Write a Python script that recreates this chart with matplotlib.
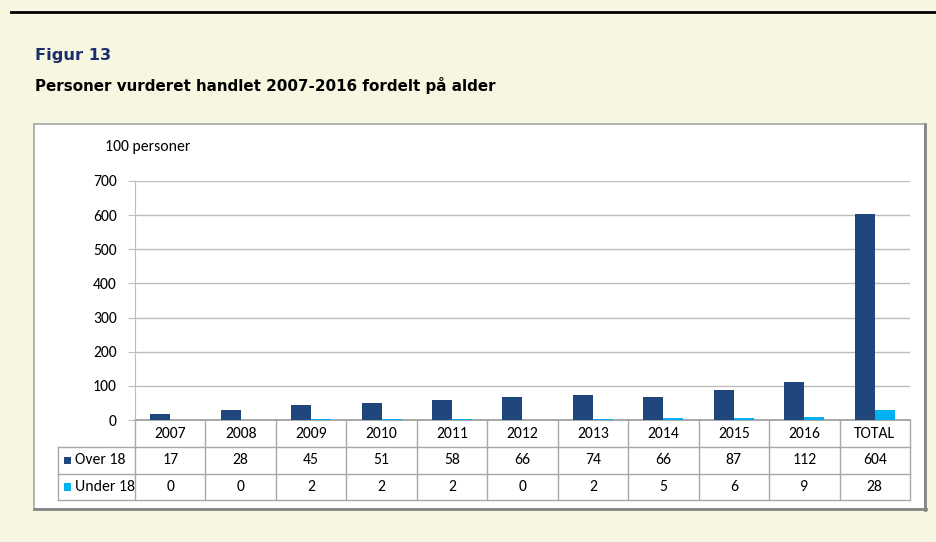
import matplotlib.pyplot as plt
import matplotlib.patches as mpatches
import matplotlib.transforms as mtransforms
from matplotlib import font_manager
import numpy as np

W, H = 936, 542

categories = ['2007', '2008', '2009', '2010', '2011', '2012', '2013', '2014', '2015', '2016', 'TOTAL']
over_18 = [17, 28, 45, 51, 58, 66, 74, 66, 87, 112, 604]
under_18 = [0, 0, 2, 2, 2, 0, 2, 5, 6, 9, 28]
series_names = ['Over 18', 'Under 18']
yticks = [0, 100, 200, 300, 400, 500, 600, 700]

c_over = '#1F477C'
c_under = '#00B0F0'
bg = '#F7F6E1'
grid_c = '#BDBDBD'

# Calibri-like font if one is around
installed = set(f.name for f in font_manager.fontManager.ttflist)
tfont = None
for cand in ['Carlito', 'Liberation Sans Narrow', 'Arial Narrow', 'Archivo Narrow', 'Liberation Sans']:
    if cand in installed:
        tfont = cand
        break
fs = {'Carlito': 11.3, 'Liberation Sans Narrow': 11.3, 'Arial Narrow': 11.3,
      'Archivo Narrow': 11.0}.get(tfont, 9.8)
tfont = [tfont, 'DejaVu Sans']


def fx(px):
    return px / W


def fy(py):
    return 1 - py / H


fig = plt.figure(figsize=(W / 100, H / 100), dpi=100, facecolor=bg)

# top rule
fig.add_artist(plt.Line2D([fx(11), 1], [fy(12), fy(12)], color='black', lw=2))

fig.text(fx(35), fy(60), 'Figur 13', fontsize=11.7, fontweight='bold',
         color='#1B2D6C', family='DejaVu Sans', va='baseline')
fig.text(fx(35), fy(90.7), 'Personer vurderet handlet 2007-2016 fordelt på alder',
         fontsize=10.9, fontweight='bold', color='black', family='DejaVu Sans', va='baseline')

# white panel with shadowed border
fig.add_artist(mpatches.Rectangle((fx(33.5), fy(508.5)), fx(891), fy(123.5) - fy(508.5),
                                  facecolor='white', edgecolor='#A5A5A5', lw=1.2, zorder=-2))
fig.add_artist(plt.Line2D([fx(924.5), fx(924.5)], [fy(124), fy(509.5)], color='#858585', lw=2, zorder=-1))
fig.add_artist(plt.Line2D([fx(34), fx(925.5)], [fy(509), fy(509)], color='#858585', lw=2, zorder=-1))

ax_top, ax_bot, ax_left, ax_right = 181, 420, 135, 910
ax = fig.add_axes([fx(ax_left), fy(ax_bot), fx(ax_right - ax_left), fy(ax_top) - fy(ax_bot)])
ax.set_facecolor('none')
ax.set_zorder(2)

x = np.arange(len(categories))
bw = 0.284
ax.bar(x - bw / 2, over_18, bw, color=c_over, zorder=3)
ax.bar(x + bw / 2, under_18, bw, color=c_under, zorder=3)

ax.set_xlim(-0.5, len(categories) - 0.5)
ax.set_ylim(0, 700)
ax.set_yticks(yticks)
ax.set_yticklabels([str(t) for t in yticks], family=tfont, fontsize=fs)
ax.set_xticks([])
for t in yticks[1:]:
    ax.axhline(t, color=grid_c, lw=1, zorder=1)
for s in ['top', 'right', 'bottom']:
    ax.spines[s].set_visible(False)
ax.spines['left'].set_color(grid_c)
ax.tick_params(axis='y', length=5, color=grid_c, pad=8)

# data table below the axis
tr = mtransforms.blended_transform_factory(ax.transData, ax.transAxes)
ah = ax_bot - ax_top
unit = (ax_right - ax_left) / len(categories)


def ya(py):
    return -(py - ax_bot) / ah


ax.text(-0.5 - 30 / unit, ya(147), '100 personer', transform=tr,
        family=tfont, fontsize=fs, va='center', ha='left')

rows = [420, 447, 473.5, 500]
lab_left = -0.5 - (135 - 58) / unit
tbl_c = '#A8A8A8'
right = len(categories) - 0.5
# horizontal lines
ax.plot([-0.5, right], [ya(rows[0])] * 2, color='#9A9A9A', lw=1.2, transform=tr, clip_on=False)
for r in rows[1:]:
    ax.plot([lab_left, right], [ya(r)] * 2, color=tbl_c, lw=1, transform=tr, clip_on=False)
# vertical lines
for i in range(len(categories) + 1):
    ax.plot([i - 0.5] * 2, [ya(rows[0]), ya(rows[3])], color=tbl_c, lw=1, transform=tr, clip_on=False)
ax.plot([lab_left] * 2, [ya(rows[1]), ya(rows[3])], color=tbl_c, lw=1, transform=tr, clip_on=False)

for i, c in enumerate(categories):
    ax.text(i, ya((rows[0] + rows[1]) / 2), c, transform=tr, ha='center', va='center',
            family=tfont, fontsize=fs)
    ax.text(i, ya((rows[1] + rows[2]) / 2), str(over_18[i]), transform=tr, ha='center', va='center',
            family=tfont, fontsize=fs)
    ax.text(i, ya((rows[2] + rows[3]) / 2), str(under_18[i]), transform=tr, ha='center', va='center',
            family=tfont, fontsize=fs)

for k, (name, col) in enumerate(zip(series_names, [c_over, c_under])):
    yc = ya((rows[k + 1] + rows[k + 2]) / 2)
    sq = 7.5
    ax.add_patch(mpatches.Rectangle((lab_left + 6 / unit, yc - sq / 2 / ah), sq / unit, sq / ah,
                                    facecolor=col, transform=tr, clip_on=False))
    ax.text(lab_left + 17 / unit, yc, name, transform=tr, ha='left', va='center',
            family=tfont, fontsize=fs)

fig.savefig('out.png', dpi=100, facecolor=bg)
